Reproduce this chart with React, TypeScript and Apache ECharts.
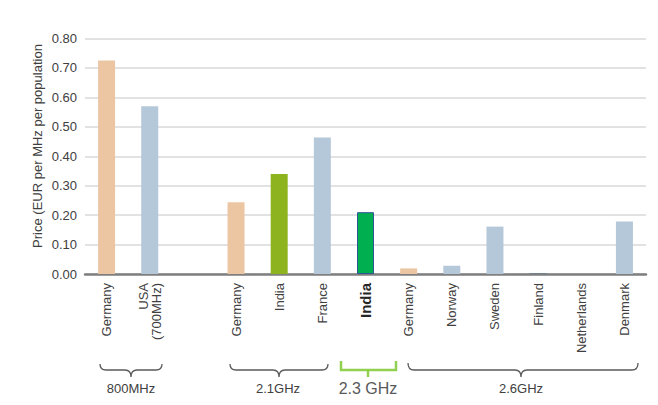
import React, { useEffect, useRef } from "react";
import * as echarts from "echarts";

const categories = [
  "Germany",
  "USA\n(700MHz)",
  "",
  "Germany",
  "India",
  "France",
  "India",
  "Germany",
  "Norway",
  "Sweden",
  "Finland",
  "Netherlands",
  "Denmark",
];
const prices: (number | null)[] = [0.725, 0.57, null, 0.244, 0.34, 0.464, 0.21, 0.019, 0.028, 0.161, 0.003, 0, 0.178];
const yTicks = [0, 0.1, 0.2, 0.3, 0.4, 0.5, 0.6, 0.7, 0.8];
const bandLabels = ["800MHz", "2.1GHz", "2.3 GHz", "2.6GHz"];
const yAxisTitle = "Price (EUR per MHz per population";

const PEACH = "#ecc6a3";
const BLUE = "#b5c8d9";
const barColors = [PEACH, BLUE, BLUE, PEACH, "#8db31f", BLUE, "#00b050", PEACH, BLUE, BLUE, "#6f7f90", BLUE, BLUE];

function bracePath(x1: number, x2: number, xc: number, yTop: number, yMid: number, yTip: number) {
  const r = 6;
  return (
    `M${x1} ${yTop} Q${x1} ${yMid} ${x1 + r} ${yMid} L${xc - r} ${yMid} ` +
    `Q${xc} ${yMid} ${xc} ${yTip} Q${xc} ${yMid} ${xc + r} ${yMid} ` +
    `L${x2 - r} ${yMid} Q${x2} ${yMid} ${x2} ${yTop}`
  );
}

let registered = false;
function registerBraces() {
  if (registered) return;
  registered = true;
  echarts.graphic.registerShape("brace800", echarts.graphic.extendPath(bracePath(100, 162, 131, 364, 370, 377), {}));
  echarts.graphic.registerShape("brace21", echarts.graphic.extendPath(bracePath(230, 328, 279, 364, 370, 377), {}));
  echarts.graphic.registerShape("brace26", echarts.graphic.extendPath(bracePath(408, 638, 521, 363, 370, 377), {}));
}

export default function App() {
  const ref = useRef<HTMLDivElement>(null);
  useEffect(() => {
    if (!ref.current) return;
    registerBraces();
    const chart = echarts.init(ref.current, null, { renderer: "svg" });
    const font = "Arial, 'Liberation Sans', sans-serif";
    const braceStyle = { stroke: "#5a5a5a", fill: "none", lineWidth: 1.3 };
    chart.setOption({
      animation: false,
      backgroundColor: "#ffffff",
      grid: { left: 85, right: 12, top: 38.5, bottom: 131, containLabel: false },
      xAxis: {
        type: "category",
        data: categories,
        boundaryGap: true,
        axisTick: { show: false },
        axisLine: { lineStyle: { color: "#7f7f7f", width: 2.5 } },
        axisLabel: {
          interval: 0,
          rotate: 90,
          margin: 9,
          fontSize: 13,
          color: "#404040",
          fontFamily: font,
          lineHeight: 13,
          formatter: (v: string, i: number) => (i === 6 ? `{b|${v}}` : v),
          rich: {
            b: { fontSize: 15, color: "#262626", fontFamily: font, fontWeight: "bold" },
          },
        },
      },
      yAxis: {
        type: "value",
        min: yTicks[0],
        max: yTicks[yTicks.length - 1],
        interval: 0.1,
        axisLine: { show: false },
        axisTick: { show: false },
        splitLine: { lineStyle: { color: "#d9d9d9", width: 1.5 } },
        axisLabel: {
          margin: 8,
          fontSize: 13,
          color: "#404040",
          fontFamily: font,
          formatter: (v: number) => v.toFixed(2),
        },
      },
      series: [
        {
          type: "bar",
          barWidth: 17,
          data: prices.map((v, i) => ({
            value: v,
            itemStyle:
              i === 6
                ? { color: barColors[i], borderColor: "#2f5597", borderWidth: 1 }
                : { color: barColors[i] },
          })),
        },
      ],
      graphic: [
        {
          type: "text",
          x: 37,
          y: 146,
          rotation: Math.PI / 2,
          style: {
            text: yAxisTitle,
            fontSize: 13,
            fill: "#404040",
            fontFamily: font,
            align: "center",
            verticalAlign: "middle",
          },
        },
        { type: "brace800", x: 0, y: 0, shape: {}, style: braceStyle },
        { type: "brace21", x: 0, y: 0, shape: {}, style: braceStyle },
        { type: "brace26", x: 0, y: 0, shape: {}, style: braceStyle },
        {
          type: "polyline",
          shape: { points: [[341, 361], [341, 370], [396, 370], [396, 361]] },
          style: { stroke: "#92d050", lineWidth: 2.5, fill: "none" },
        },
        {
          type: "line",
          shape: { x1: 368, y1: 370, x2: 368, y2: 377 },
          style: { stroke: "#92d050", lineWidth: 2.5 },
        },
        {
          type: "text",
          x: 131,
          y: 388,
          style: { text: bandLabels[0], fontSize: 13, fill: "#404040", fontFamily: font, align: "center", verticalAlign: "middle" },
        },
        {
          type: "text",
          x: 278,
          y: 388,
          style: { text: bandLabels[1], fontSize: 13, fill: "#404040", fontFamily: font, align: "center", verticalAlign: "middle" },
        },
        {
          type: "text",
          x: 368,
          y: 388,
          style: { text: bandLabels[2], fontSize: 16, fill: "#595959", fontFamily: font, align: "center", verticalAlign: "middle" },
        },
        {
          type: "text",
          x: 521,
          y: 388,
          style: { text: bandLabels[3], fontSize: 13, fill: "#404040", fontFamily: font, align: "center", verticalAlign: "middle" },
        },
      ],
    });
    return () => chart.dispose();
  }, []);
  return <div ref={ref} style={{ position: "fixed", left: 0, top: 0, width: 658, height: 405 }} />;
}
